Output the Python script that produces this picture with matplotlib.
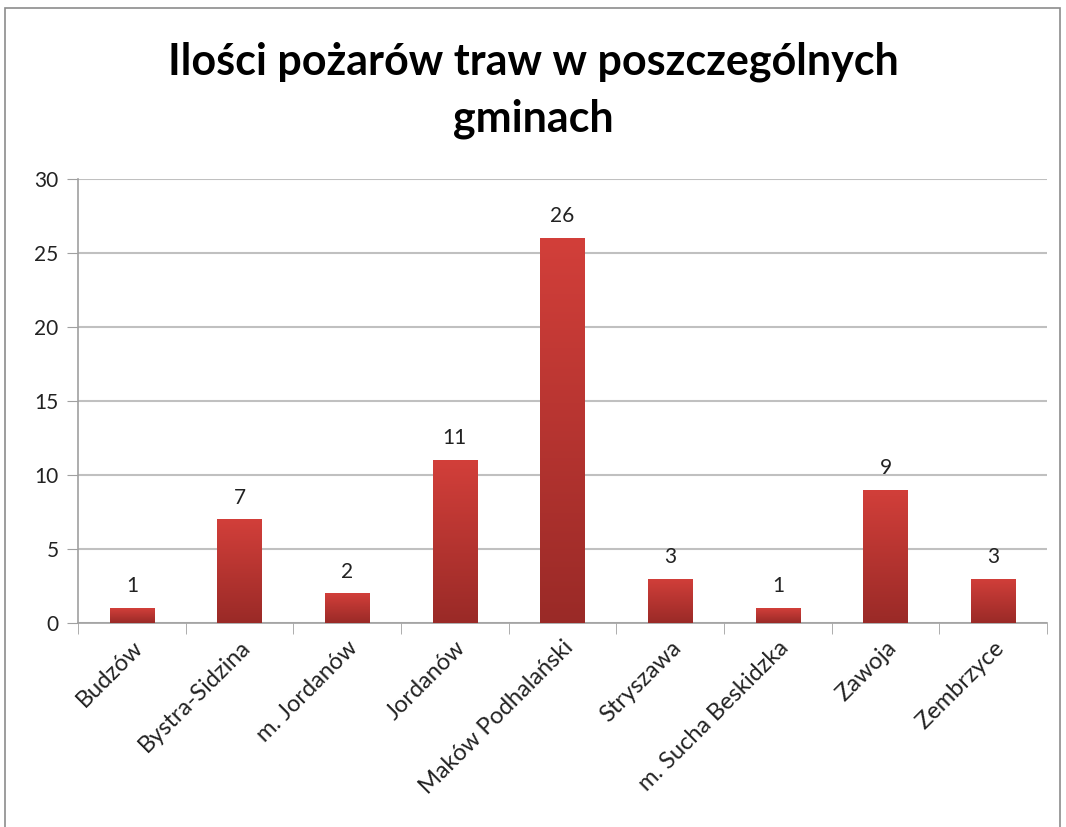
import numpy as np
import matplotlib.pyplot as plt
from matplotlib.patches import Rectangle
from matplotlib.colors import LinearSegmentedColormap

# dane
gminy = ["Budzów", "Bystra-Sidzina", "m. Jordanów", "Jordanów", "Maków Podhalański",
         "Stryszawa", "m. Sucha Beskidzka", "Zawoja", "Zembrzyce"]
pozary = [1, 7, 2, 11, 26, 3, 1, 9, 3]
y_ticks = [0, 5, 10, 15, 20, 25, 30]

plt.rcParams['font.family'] = ['Lato', 'DejaVu Sans']

fig = plt.figure(figsize=(10.66, 8.27), dpi=100)
ax = fig.add_axes([78 / 1066, 1 - 623 / 827, (1047 - 78) / 1066, (623 - 179) / 827])

# ramka wykresu
fig.patches.append(Rectangle((5 / 1066, -0.01), 1055 / 1066, 1 - 8 / 827 + 0.01,
                             transform=fig.transFigure, fill=False,
                             edgecolor="#8c8c8c", lw=1.2))

x = np.arange(len(gminy))
bars = ax.bar(x, pozary, width=0.41, color="none", zorder=3)

# gradient w slupkach
grad = np.linspace(0, 1, 256).reshape(-1, 1)
cmap = LinearSegmentedColormap.from_list("red", ["#9a2a27", "#d23f3a"])
for b in bars:
    x0, w, h = b.get_x(), b.get_width(), b.get_height()
    im = ax.imshow(grad, cmap=cmap, aspect="auto", origin="lower",
                   extent=[x0, x0 + w, 0, h], zorder=3)
    im.set_clip_path(b)
    ax.text(x0 + w / 2, h + 0.8, str(int(h)), ha="center", va="bottom",
            fontsize=15, color="#222222")

ax.set_xlim(-0.5, len(gminy) - 0.5)
ax.set_ylim(0, 30)
ax.set_yticks(y_ticks)
ax.yaxis.grid(True, color="#c0c0c0", lw=1.5, zorder=0)
ax.set_axisbelow(True)

for s in ["top", "right"]:
    ax.spines[s].set_visible(False)
for s in ["left", "bottom"]:
    ax.spines[s].set_color("#a0a0a0")
    ax.spines[s].set_linewidth(1.2)

ax.tick_params(axis="y", length=8, color="#a0a0a0", labelsize=15, pad=6,
               labelcolor="#222222")
# etykiety kategorii na srodku, kreski na granicach
ax.set_xticks(x)
ax.set_xticklabels(gminy, rotation=45, ha="right", rotation_mode="anchor",
                   fontsize=17, color="#222222")
ax.tick_params(axis="x", length=0, pad=10)
ax.set_xticks(np.arange(-0.5, len(gminy)), minor=True)
ax.tick_params(axis="x", which="minor", length=8, color="#a0a0a0")

fig.text(0.5, 1 - 90 / 827, "Ilości pożarów traw w poszczególnych\ngminach",
         ha="center", va="center", fontsize=31, fontweight="bold",
         linespacing=1.5, color="#000000")

fig.savefig("out.png", dpi=100)
